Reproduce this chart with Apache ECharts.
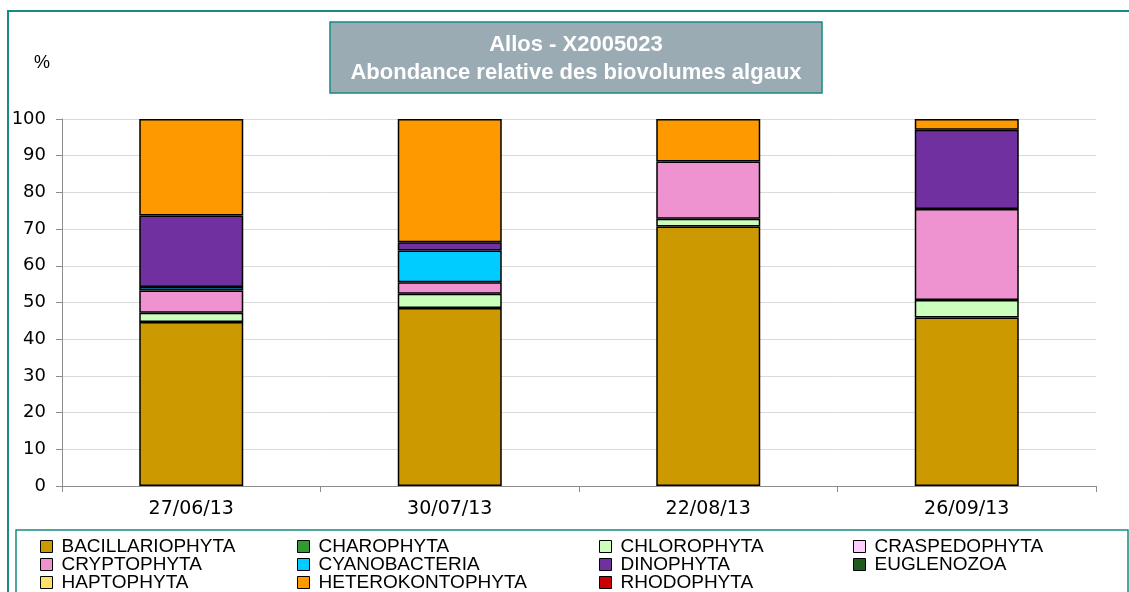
<!DOCTYPE html>
<html>
<head>
<meta charset="utf-8">
<script src="https://cdn.jsdelivr.net/npm/echarts@6/dist/echarts.min.js"></script>
<style>
  html, body { margin: 0; padding: 0; background: #fff; }
  #chart { width: 1129px; height: 592px; }
</style>
</head>
<body>
<div id="chart"></div>
<script>
// dates of the samples
const dates = ['27/06/13', '30/07/13', '22/08/13', '26/09/13'];

// relative biovolume (%) per group
const bacillariophyta = [44.7, 48.5, 70.7, 45.9];
const charophyta = [null, null, null, null];
const chlorophyta = [2.5, 3.9, 2.1, 4.8];
const craspedophyta = [null, null, null, null];
const cryptophyta = [6.1, 3.1, 15.6, 24.8];
const cyanobacteria = [0.9, 8.7, null, null];
const dinophyta = [19.5, 2.2, null, 21.6];
const euglenozoa = [null, null, null, null];
const haptophyta = [null, null, null, null];
const heterokontophyta = [26.3, 33.6, 11.6, 2.9];
const rhodophyta = [null, null, null, null];

const yTicks = [0, 10, 20, 30, 40, 50, 60, 70, 80, 90, 100];

const groups = [
    { name: 'BACILLARIOPHYTA', data: bacillariophyta, color: '#CC9900' },
    { name: 'CHAROPHYTA', data: charophyta, color: '#339933' },
    { name: 'CHLOROPHYTA', data: chlorophyta, color: '#CCFFBB' },
    { name: 'CRASPEDOPHYTA', data: craspedophyta, color: '#FFCCFF' },
    { name: 'CRYPTOPHYTA', data: cryptophyta, color: '#EE93CF' },
    { name: 'CYANOBACTERIA', data: cyanobacteria, color: '#00CCFF' },
    { name: 'DINOPHYTA', data: dinophyta, color: '#7030A0' },
    { name: 'EUGLENOZOA', data: euglenozoa, color: '#1F5B1F' },
    { name: 'HAPTOPHYTA', data: haptophyta, color: '#FFE066' },
    { name: 'HETEROKONTOPHYTA', data: heterokontophyta, color: '#FF9900' },
    { name: 'RHODOPHYTA', data: rhodophyta, color: '#CC0000' },
];

const chart = echarts.init(document.getElementById('chart'));

// legend: 4 columns filled row by row, one legend per cell
const legendCols = [40, 297, 599, 853];
const legendRows = [537, 555, 573];
const legends = groups.map((g, i) => ({
    left: legendCols[i % 4],
    top: legendRows[Math.floor(i / 4)],
    padding: 0,
    itemWidth: 12,
    itemHeight: 12,
    icon: 'rect',
    selectedMode: false,
    textStyle: { fontFamily: 'Liberation Sans', fontSize: 19, color: '#000', padding: [0, 0, 0, 4] },
    data: [{ name: g.name, itemStyle: { color: g.color, borderColor: '#000', borderWidth: 1 } }],
}));

chart.setOption({
    animation: false,
    grid: { left: 62, right: 33, top: 119, bottom: 106 },
    legend: legends,
    graphic: [
        // outer frame
        { type: 'rect', shape: { x: 8, y: 11, width: 1140, height: 600 },
          style: { fill: 'none', stroke: '#168A84', lineWidth: 2 } },
        // legend frame
        { type: 'rect', shape: { x: 16, y: 530, width: 1112, height: 80 },
          style: { fill: '#fff', stroke: '#168A84', lineWidth: 1.5 }, z: -1 },
        // title box
        { type: 'rect', shape: { x: 330, y: 22, width: 492, height: 71 },
          style: { fill: '#9BABB4', stroke: '#168A84', lineWidth: 1.5 } },
        { type: 'text', x: 576, y: 45, style: {
            text: 'Allos - X2005023', fill: '#fff', align: 'center', verticalAlign: 'middle',
            font: 'bold 22px "Liberation Sans"' } },
        { type: 'text', x: 576, y: 73, style: {
            text: 'Abondance relative des biovolumes algaux', fill: '#fff', align: 'center', verticalAlign: 'middle',
            font: 'bold 22px "Liberation Sans"' } },
        { type: 'text', x: 42, y: 63, style: {
            text: '%', fill: '#000', align: 'center', verticalAlign: 'middle',
            font: '18px "Liberation Sans"' } },
    ],
    xAxis: {
        type: 'category',
        data: dates,
        axisLine: { lineStyle: { color: '#8c8c8c', width: 1 } },
        axisTick: { show: true, alignWithLabel: false, length: 6, lineStyle: { color: '#8c8c8c' } },
        axisLabel: { color: '#000', fontSize: 19, fontFamily: 'DejaVu Sans', margin: 14 },
    },
    yAxis: {
        type: 'value',
        min: 0,
        max: 100,
        interval: 10,
        axisLine: { show: true, lineStyle: { color: '#8c8c8c', width: 1 } },
        axisTick: { show: true, length: 6, lineStyle: { color: '#8c8c8c' } },
        axisLabel: {
            color: '#000', fontSize: 18, fontFamily: 'DejaVu Sans', margin: 16,
            formatter: (v) => (yTicks.includes(v) ? String(v) : ''),
        },
        splitLine: { show: true, lineStyle: { color: '#dadada', width: 1 } },
    },
    series: groups.map((g) => ({
        name: g.name,
        type: 'bar',
        stack: 'total',
        barWidth: 104,
        data: g.data,
        itemStyle: { color: g.color, borderColor: '#000', borderWidth: 1.5 },
    })),
});
</script>
</body>
</html>
